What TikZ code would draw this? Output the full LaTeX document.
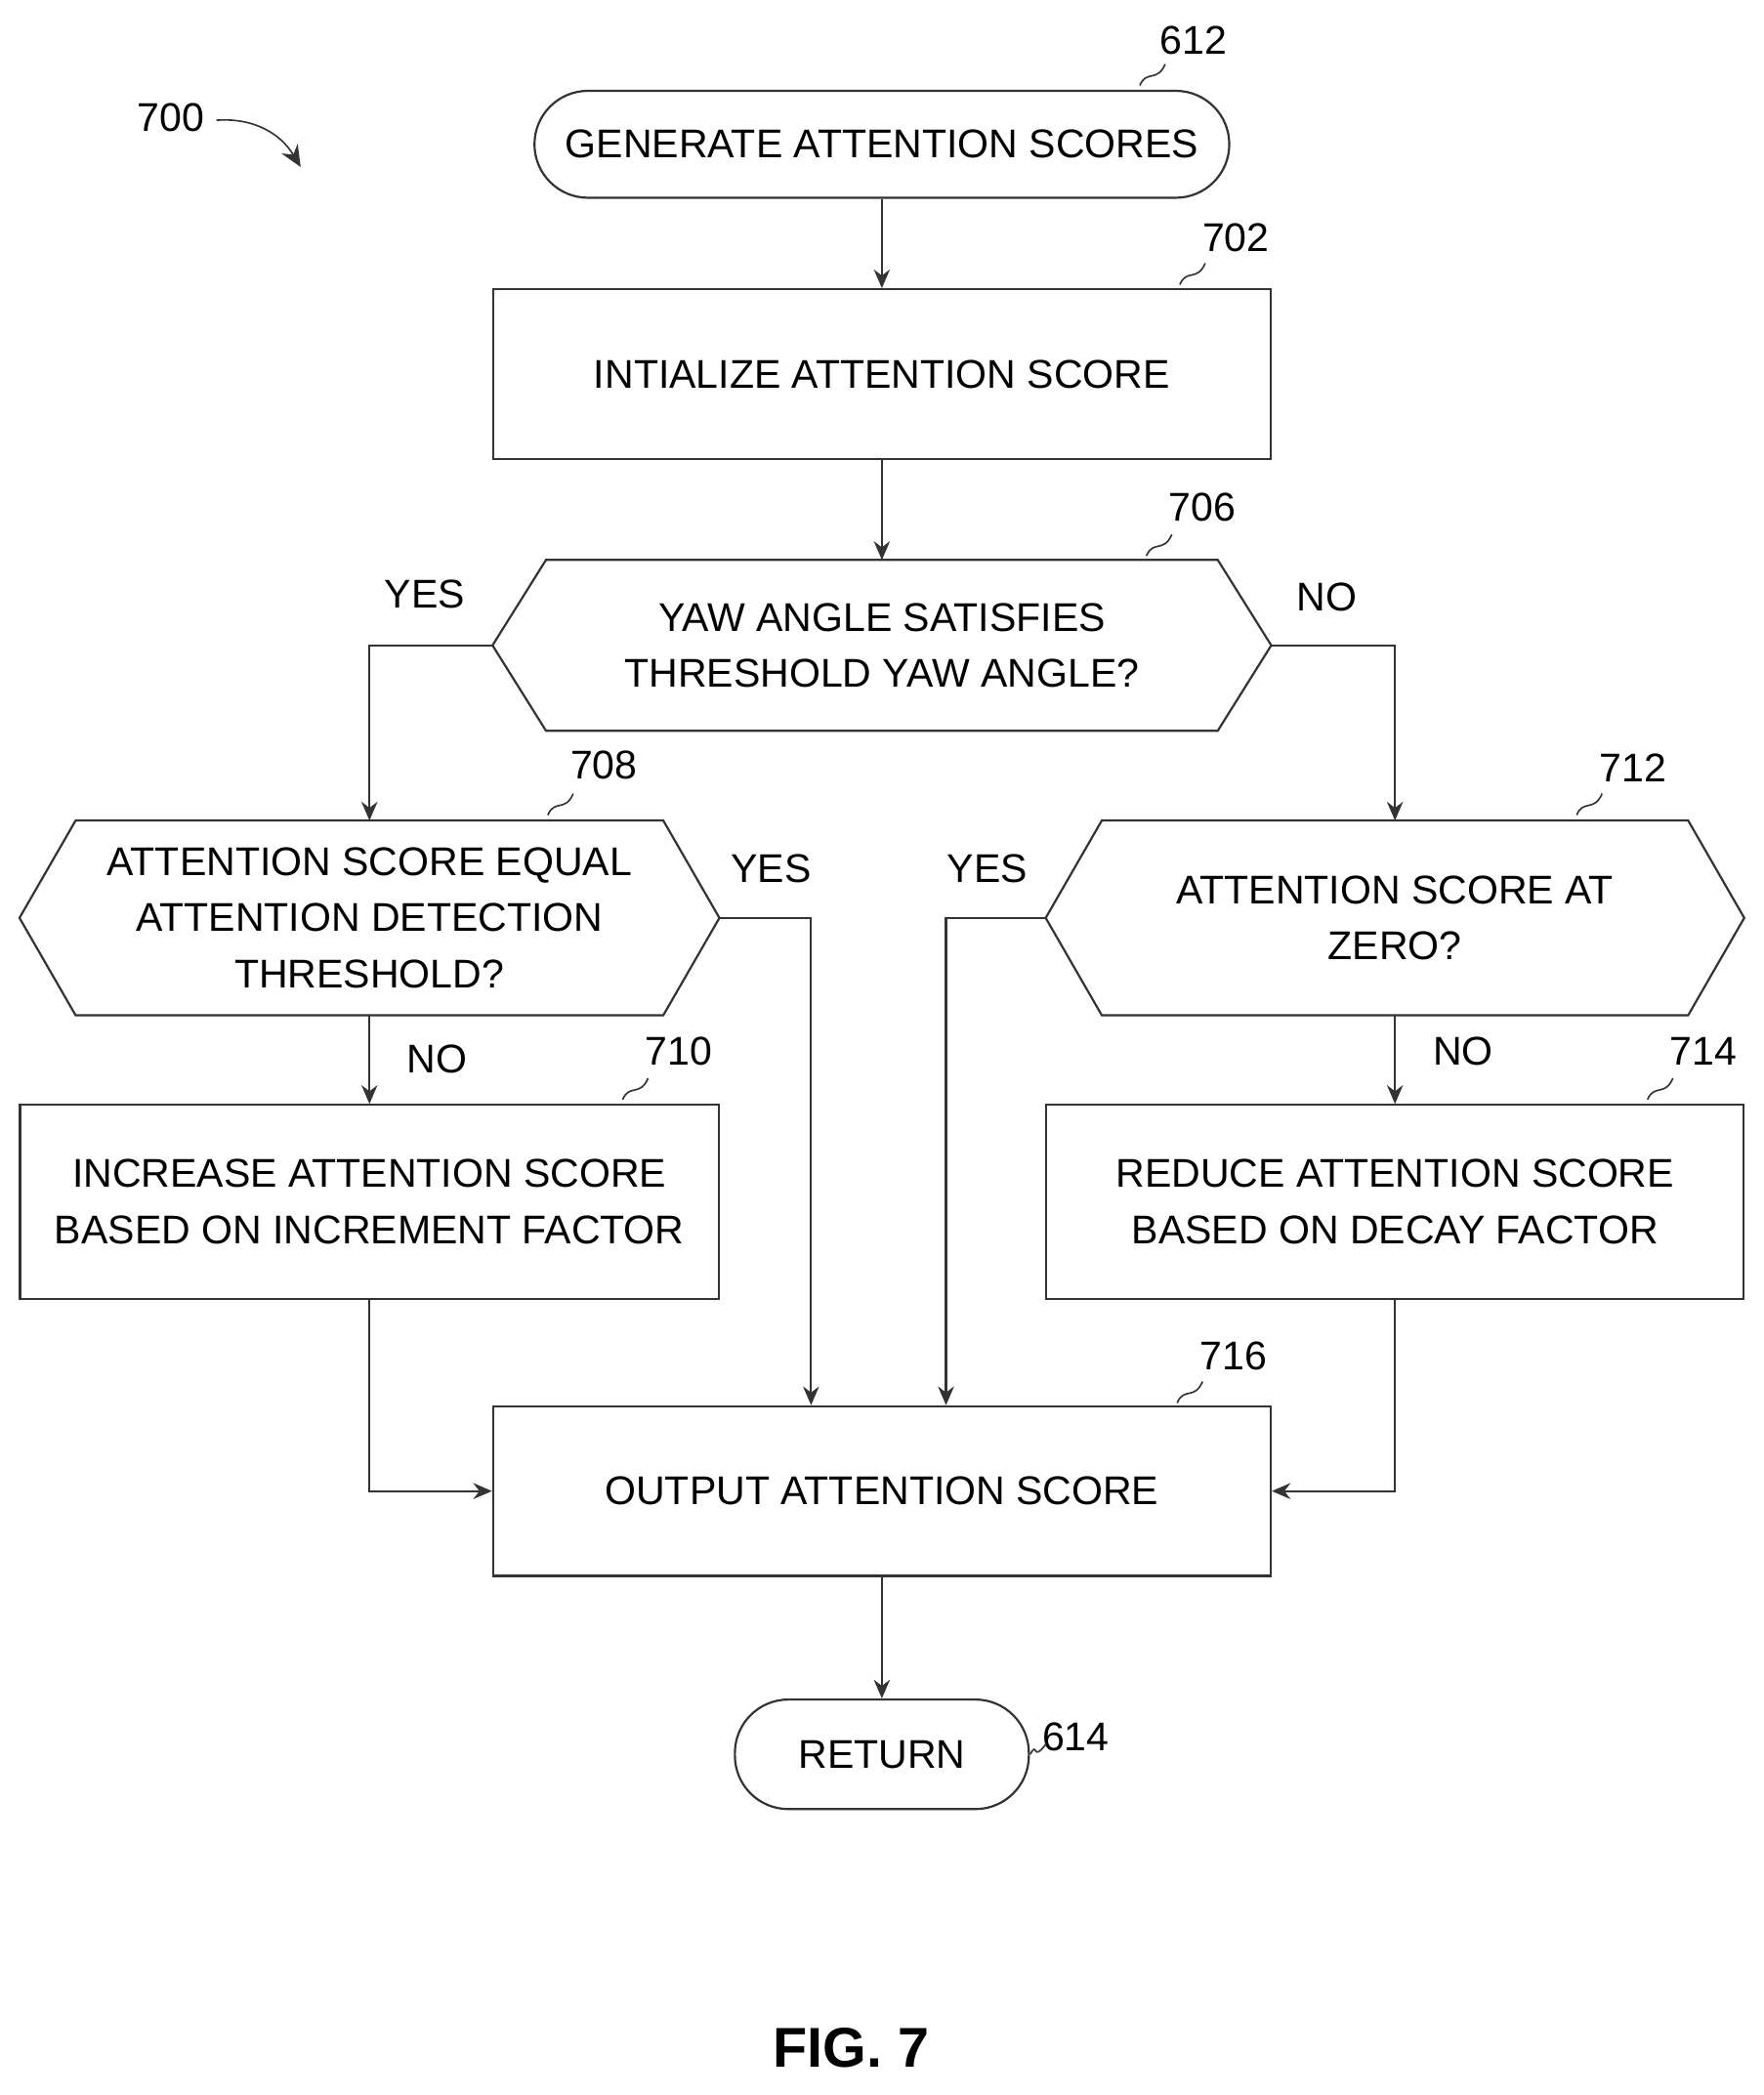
\documentclass[tikz,border=0pt]{standalone}
\usepackage{fontspec}
\setmainfont{Liberation Sans}
\usetikzlibrary{arrows.meta}
\tikzset{
  txt/.style={font=\fontsize{15}{21}\selectfont, align=center, inner sep=0pt},
  box/.style={txt, draw=black!80, line width=0.8pt},
  blank/.style={txt},
  term/.style={txt, draw=black!80, line width=0.8pt, rounded corners=20pt},
  flow/.style={draw=black!80, line width=0.8pt, -{Stealth[length=7pt,width=6pt]}},
  lead/.style={draw=black!80, line width=0.6pt},
  refnum/.style={font=\fontsize{15}{18}\selectfont, inner sep=1pt},
}
% hexagon drawn around a named (blank) node
\newcommand{\hexa}[2]{\draw[black!80, line width=0.8pt] (#1.west) -- ([xshift=#2]#1.north west) -- ([xshift=-#2]#1.north east) -- (#1.east) -- ([xshift=-#2]#1.south east) -- ([xshift=#2]#1.south west) -- cycle;}
\begin{document}
\begin{tikzpicture}[x=0.5pt,y=-0.5pt]
\useasboundingbox (0,0) rectangle (1320,1568);

% nodes
\node[term, minimum width=260pt, minimum height=40pt] (start) at (660,108) {GENERATE ATTENTION SCORES};
\node[box, minimum width=291pt, minimum height=63.5pt] (init) at (660,280) {INTIALIZE ATTENTION SCORE};
\node[blank, minimum width=291pt, minimum height=63.5pt] (yaw) at (660,483) {YAW ANGLE SATISFIES\\THRESHOLD YAW ANGLE?};
\node[blank, minimum width=261.5pt, minimum height=72.5pt] (equal) at (276.5,687) {ATTENTION SCORE EQUAL\\ATTENTION DETECTION\\THRESHOLD?};
\node[blank, minimum width=261pt, minimum height=72.5pt] (zero) at (1044,687) {ATTENTION SCORE AT\\ZERO?};
\node[box, minimum width=261.5pt, minimum height=72.5pt] (incr) at (276.5,899.5) {INCREASE ATTENTION SCORE\\BASED ON INCREMENT FACTOR};
\node[box, minimum width=261pt, minimum height=72.5pt] (reduce) at (1044,899.5) {REDUCE ATTENTION SCORE\\BASED ON DECAY FACTOR};
\node[box, minimum width=291pt, minimum height=63.5pt] (out) at (660,1116) {OUTPUT ATTENTION SCORE};
\node[term, minimum width=110pt, minimum height=41pt] (ret) at (660,1313) {RETURN};
\hexa{yaw}{20pt}
\hexa{equal}{21pt}
\hexa{zero}{21pt}

% connectors
\draw[flow] (start) -- (init);
\draw[flow] (init) -- (yaw);
\draw[flow] (yaw.west) -| (equal.north);
\draw[flow] (yaw.east) -| (zero.north);
\draw[flow] (equal) -- (incr);
\draw[flow] (zero) -- (reduce);
\coordinate (ey) at (607,687);
\coordinate (zy) at (708,687);
\draw[flow] (equal.east) -- (ey) -- (ey |- out.north);
\draw[flow] (zero.west) -- (zy) -- (zy |- out.north);
\draw[flow] (incr.south) |- (out.west);
\draw[flow] (reduce.south) |- (out.east);
\draw[flow] (out) -- (ret);

% branch labels
\node[txt] (y1) at (318,445) {YES};
\node[txt] (n1) at (993,447) {NO};
\node[txt] (y2) at (577,650) {YES};
\node[txt] (y3) at (739,650) {YES};
\node[txt] (n2) at (327,793) {NO};
\node[txt] (n3) at (1095,787) {NO};

% reference numerals
\node[refnum] (r612) at (893,30) {612};
\draw[lead] (853,64) .. controls (858,52) and (866,62) .. (872,48);
\node[refnum] (r702) at (925,178) {702};
\draw[lead] (883,213) .. controls (888,201) and (896,211) .. (902,197);
\node[refnum] (r706) at (900,380) {706};
\draw[lead] (858,416) .. controls (863,404) and (871,414) .. (877,400);
\node[refnum] (r708) at (452,573) {708};
\draw[lead] (410,610) .. controls (415,598) and (423,608) .. (429,594);
\node[refnum] (r712) at (1222,575) {712};
\draw[lead] (1180,610) .. controls (1185,598) and (1193,608) .. (1199,594);
\node[refnum] (r710) at (508,787) {710};
\draw[lead] (466,823) .. controls (471,811) and (479,821) .. (485,807);
\node[refnum] (r714) at (1275,787) {714};
\draw[lead] (1233,823) .. controls (1238,811) and (1246,821) .. (1252,807);
\node[refnum] (r716) at (923,1015) {716};
\draw[lead] (881,1050) .. controls (886,1038) and (894,1048) .. (900,1034);
\node[refnum] (r614) at (805,1300) {614};
\draw[lead] (771,1313) .. controls (777,1302) and (772,1320) .. (783,1305);
\node[refnum] (r700) at (128,88) {700};
\coordinate (a700) at (225,125);
\draw[lead, -{Stealth[length=8pt,width=7pt]}] (162,90) .. controls (190,88) and (210,100) .. (a700);

% figure caption
\node[font=\fontsize{21}{24}\selectfont\bfseries] (fig) at (637,1533) {FIG. 7};
\end{tikzpicture}
\end{document}
